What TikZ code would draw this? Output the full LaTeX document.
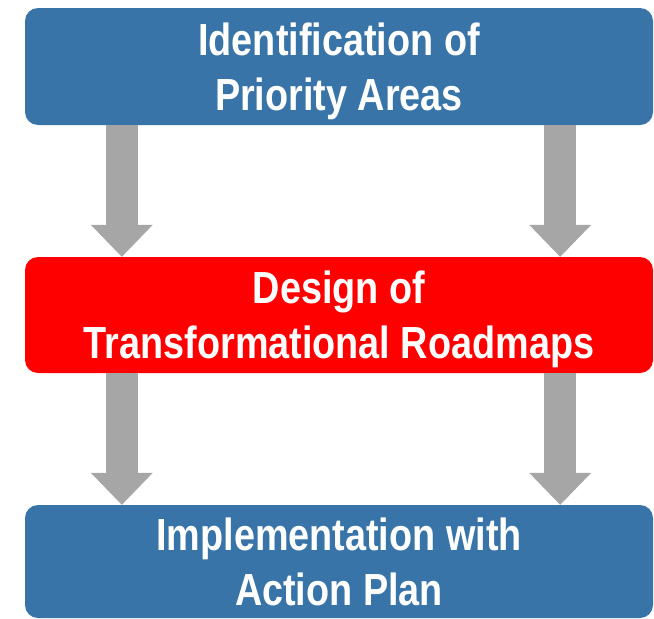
\documentclass[tikz,border=0pt]{standalone}
\usepackage{fontspec}
\usepackage{xcolor}
\usetikzlibrary{arrows.meta,calc}
\newfontfamily\boxfont[FakeStretch=0.84]{Liberation Sans}
\definecolor{stageblue}{HTML}{3874A8}
\definecolor{stagered}{HTML}{FF0000}
\definecolor{arrowgray}{HTML}{A6A6A6}

\begin{document}
\begin{tikzpicture}[x=1pt, y=-1pt, line cap=butt,
  stage/.style={rectangle, rounded corners=13pt, minimum width=628pt,
    inner sep=0pt, text=white, align=center, text depth=0pt,
    font=\boxfont\bfseries\fontsize{45}{55}\selectfont},
  flow/.style={arrowgray, line width=32pt,
    -{Triangle[width=62pt, length=32pt, line width=0pt]}}]

\useasboundingbox (0,0) rectangle (654,619);

% --- layout helpers ---
\def\C{339}    % center column x
\def\Lx{97}    % left arrows, from the left edge
\def\Rx{-93}   % right arrows, from the right edge

% --- stages (top to bottom) ---
\node[stage, fill=stageblue, minimum height=117pt] (ident) at (\C,66.5)
  {Identification of\\Priority Areas};
\node[stage, fill=stagered, minimum height=116pt] (design) at (\C,315)
  {Design of\\Transformational Roadmaps};
\node[stage, fill=stageblue, minimum height=113pt] (impl) at (\C,561.5)
  {Implementation with\\Action Plan};

% --- arrows between stages ---
\draw[flow] ($(ident.south west)+(\Lx,0)$) -- ($(design.north west)+(\Lx,0)$);
\draw[flow] ($(ident.south east)+(\Rx,0)$) -- ($(design.north east)+(\Rx,0)$);
\draw[flow] ($(design.south west)+(\Lx,0)$) -- ($(impl.north west)+(\Lx,0)$);
\draw[flow] ($(design.south east)+(\Rx,0)$) -- ($(impl.north east)+(\Rx,0)$);

\end{tikzpicture}
\end{document}
